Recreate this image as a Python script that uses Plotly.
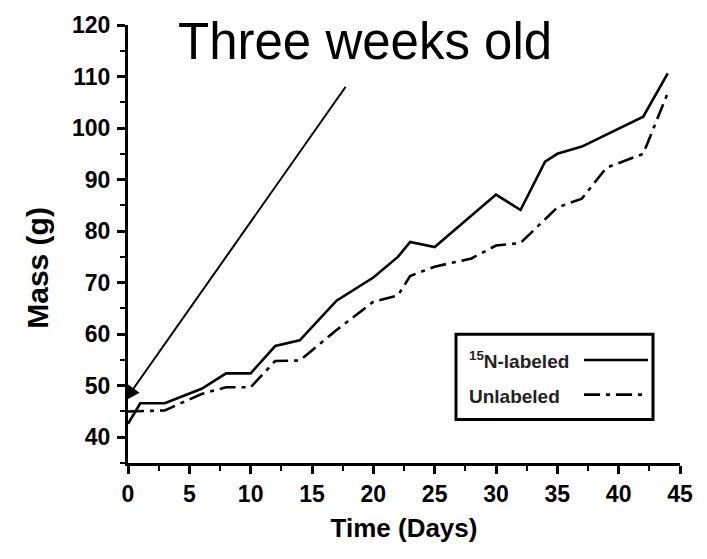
import plotly.graph_objects as go

# ---- data ----
labeled_days = [0, 1, 3, 6, 8, 10, 12, 14, 17, 20, 22, 23, 25, 30, 32, 34, 35, 37, 42, 44]
labeled_mass = [42.6, 46.6, 46.6, 49.4, 52.4, 52.4, 57.7, 58.8, 66.5, 71.0, 75.0, 77.9, 76.9,
                87.1, 84.1, 93.5, 95.0, 96.4, 102.2, 110.6]

unlabeled_days = [0, 1, 3, 6, 8, 10, 12, 14, 17, 20, 22, 23, 25, 28, 30, 32, 35, 37, 39, 42, 44]
unlabeled_mass = [45.0, 45.1, 45.2, 48.4, 49.7, 49.7, 54.8, 54.9, 60.8, 66.3, 67.5, 71.3, 73.1,
                  74.7, 77.2, 77.7, 84.6, 86.3, 92.3, 95.0, 106.8]

series_names = ["<sup>15</sup>N-labeled", "Unlabeled"]
x_ticks = [0, 5, 10, 15, 20, 25, 30, 35, 40, 45]
y_ticks = [40, 50, 60, 70, 80, 90, 100, 110, 120]
x_title = "Time (Days)"
y_title = "Mass (g)"
note_text = "Three weeks old"

# ---- layout geometry ----
W, H = 707, 559
L, R, T, B = 128, 27, 21, 96
PW, PH = W - L - R, H - T - B
FONT = "Arial, Liberation Sans, sans-serif"
DASHDOT = "16px,6px,4px,6px"


def px(xp):
    return (xp - L) / PW


def py(yp):
    return (H - B - yp) / PH


fig = go.Figure()
fig.add_trace(go.Scatter(x=labeled_days, y=labeled_mass, mode="lines", name=series_names[0],
                         line=dict(color="black", width=2.6), showlegend=False))
fig.add_trace(go.Scatter(x=unlabeled_days, y=unlabeled_mass, mode="lines", name=series_names[1],
                         line=dict(color="black", width=2.6, dash=DASHDOT),
                         showlegend=False))

axis_common = dict(showline=True, linewidth=3, linecolor="black", ticks="outside",
                   ticklen=8, tickwidth=2.5, tickcolor="black", showgrid=False,
                   zeroline=False, mirror=False,
                   tickfont=dict(family=FONT, size=23, color="black", weight="bold"))

fig.update_xaxes(range=[0, 45], tickvals=x_ticks, ticktext=[str(v) for v in x_ticks],
                 minor=dict(dtick=2.5, tick0=0, ticklen=5, tickwidth=2, tickcolor="black", ticks="outside"),
                 title=dict(text=x_title, font=dict(family=FONT, size=26, color="black", weight="bold"),
                            standoff=14),
                 **axis_common)
fig.update_yaxes(range=[35, 120], tickvals=y_ticks, ticktext=[str(v) for v in y_ticks],
                 minor=dict(dtick=5, tick0=0, ticklen=5, tickwidth=2, tickcolor="black", ticks="outside"),
                 ticklabelstandoff=2,
                 **axis_common)

annotations = [
    # y axis title
    dict(text=y_title, xref="paper", yref="paper", x=px(38), y=py(266), showarrow=False,
         textangle=-90, xanchor="center", yanchor="middle",
         font=dict(family=FONT, size=30, color="black", weight="bold")),
    # annotation text
    dict(text=note_text, xref="paper", yref="paper", x=px(365), y=py(38), showarrow=False,
         xanchor="center", yanchor="middle",
         font=dict(family=FONT, size=51, color="black")),
    # arrow
    dict(text="", x=-0.25, y=47.1, xref="x", yref="y", ax=17.83, ay=108.3, axref="x", ayref="y",
         showarrow=True, arrowhead=2, arrowsize=1.5, arrowwidth=2, arrowcolor="black"),
    # manual legend text
    dict(text=series_names[0], xref="paper", yref="paper", x=px(467), y=py(359), showarrow=False,
         xanchor="left", yanchor="middle",
         font=dict(family=FONT, size=19, color="#222", weight="bold")),
    dict(text=series_names[1], xref="paper", yref="paper", x=px(467), y=py(396), showarrow=False,
         xanchor="left", yanchor="middle",
         font=dict(family=FONT, size=19, color="#222", weight="bold")),
]

shapes = [
    dict(type="rect", xref="paper", yref="paper", x0=px(456), x1=px(653), y0=py(333), y1=py(419),
         line=dict(color="black", width=3), fillcolor="white", layer="above"),
    dict(type="line", xref="paper", yref="paper", x0=px(584), x1=px(648), y0=py(359), y1=py(359),
         line=dict(color="black", width=2.6), layer="above"),
    dict(type="line", xref="paper", yref="paper", x0=px(584), x1=px(648), y0=py(394), y1=py(394),
         line=dict(color="black", width=2.6, dash=DASHDOT), layer="above"),
]

fig.update_layout(width=W, height=H, margin=dict(l=L, r=R, t=T, b=B, pad=0),
                  paper_bgcolor="white", plot_bgcolor="white", showlegend=False,
                  annotations=annotations, shapes=shapes)

fig.write_html("out.html", config={"displayModeBar": False})
